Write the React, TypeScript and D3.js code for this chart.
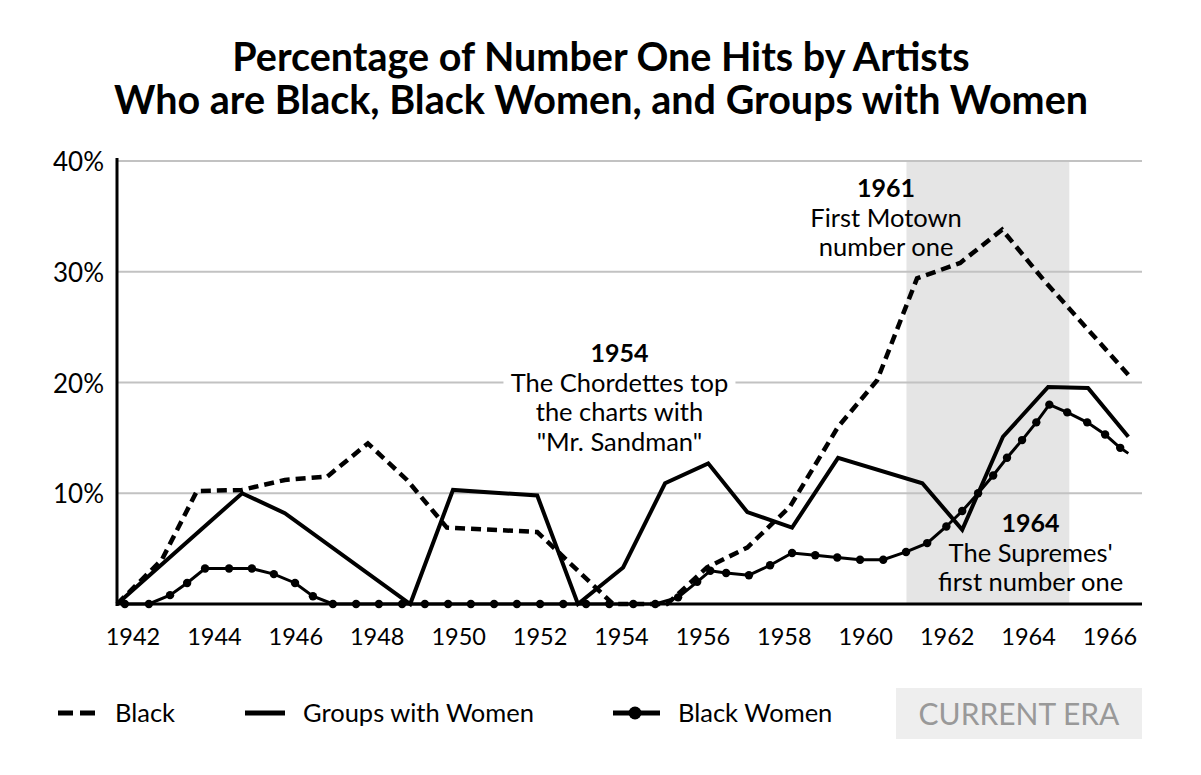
import React from "react";
import * as d3 from "d3";

const yearTicks = [1942, 1944, 1946, 1948, 1950, 1952, 1954, 1956, 1958, 1960, 1962, 1964, 1966];
const pctTicks = [10, 20, 30, 40];

// Black (dashed): [year, percent]
const blackSeries: [number, number][] = [
  [1941.61, 0], [1942.71, 4.0], [1943.57, 10.2], [1944.68, 10.3], [1945.73, 11.2],
  [1946.77, 11.5], [1947.77, 14.5], [1948.73, 11.2], [1949.71, 6.9], [1951.93, 6.5],
  [1953.79, 0], [1955.12, 0], [1956.1, 3.3], [1957.09, 5.1], [1958.14, 8.8],
  [1959.32, 16.0], [1960.28, 20.2], [1961.26, 29.4], [1962.32, 30.8], [1963.35, 33.8],
  [1964.36, 29.3], [1966.45, 20.7],
];

// Groups with Women (solid)
const groupsSeries: [number, number][] = [
  [1941.61, 0], [1944.68, 10.0], [1945.73, 8.2], [1948.81, 0], [1949.86, 10.3],
  [1951.93, 9.8], [1952.93, 0], [1954.04, 3.3], [1955.07, 10.9], [1956.13, 12.7],
  [1957.09, 8.3], [1958.19, 6.9], [1959.32, 13.2], [1961.39, 10.9], [1962.37, 6.7],
  [1963.37, 15.1], [1964.48, 19.6], [1965.46, 19.5], [1966.45, 15.1],
];

// Black Women (line with dots)
const blackWomenSeries: [number, number][] = [
  [1941.8, 0], [1942.39, 0], [1942.91, 0.8], [1943.33, 1.9], [1943.77, 3.2],
  [1944.36, 3.2], [1944.92, 3.2], [1945.46, 2.7], [1945.98, 1.9], [1946.42, 0.7],
  [1946.91, 0], [1947.48, 0], [1948.04, 0], [1948.61, 0], [1949.17, 0],
  [1949.74, 0], [1950.3, 0], [1950.87, 0], [1951.43, 0], [1952.0, 0],
  [1952.57, 0], [1953.13, 0], [1953.7, 0], [1954.29, 0], [1954.83, 0],
  [1955.39, 0.6], [1955.86, 2.0], [1956.18, 3.0], [1956.57, 2.8], [1957.13, 2.6],
  [1957.65, 3.5], [1958.19, 4.6], [1958.76, 4.4], [1959.3, 4.2], [1959.86, 4.0],
  [1960.43, 4.0], [1960.99, 4.7], [1961.51, 5.5], [1961.98, 7.0], [1962.37, 8.4],
  [1962.76, 10.0], [1963.13, 11.6], [1963.47, 13.2], [1963.84, 14.8], [1964.19, 16.4],
  [1964.51, 18.0], [1964.95, 17.3], [1965.44, 16.4], [1965.88, 15.3], [1966.25, 14.1],
  [1966.45, 13.6],
];

const eraRange = [1961, 1965];

const titleLines = [
  "Percentage of Number One Hits by Artists",
  "Who are Black, Black Women, and Groups with Women",
];

const annotations = [
  { year: 1953.95, pct: 21.85, head: "1954", lines: ["The Chordettes top", "the charts with", "\"Mr. Sandman\""], halo: true },
  { year: 1960.5, pct: 36.75, head: "1961", lines: ["First Motown", "number one"], halo: false },
  { year: 1964.05, pct: 6.5, head: "1964", lines: ["The Supremes'", "first number one"], halo: false },
];

const legendItems = ["Black", "Groups with Women", "Black Women"];

const FONT = "Lato, 'Open Sans', sans-serif";

export default function App() {
  const x = d3.scaleLinear().domain([1942, 1966]).range([133, 1110]);
  const y = d3.scaleLinear().domain([0, 40]).range([604, 161]);
  const xLeft = 117;
  const xRight = 1142;

  const line = d3
    .line<[number, number]>()
    .x((d) => x(d[0]))
    .y((d) => y(d[1]));

  const dotted = blackWomenSeries.slice(0, blackWomenSeries.length - 1);

  return (
    <svg
      width={1201}
      height={775}
      style={{ position: "fixed", left: 0, top: 0, background: "#fff" }}
      fontFamily={FONT}
    >
      <rect x={0} y={0} width={1201} height={775} fill="#fff" />
      {/* Title */}
      {titleLines.map((t, i) => (
        <text key={i} x={601} y={71 + i * 43} textAnchor="middle" fontSize={39.5} fontWeight={700} fill="#000">
          {t}
        </text>
      ))}

      {/* Current era band */}
      <rect
        x={x(eraRange[0])}
        y={y(40)}
        width={x(eraRange[1]) - x(eraRange[0])}
        height={y(0) - y(40)}
        fill="#e5e5e5"
      />

      {/* Grid lines */}
      {pctTicks.map((p) => (
        <line key={p} x1={xLeft} x2={xRight} y1={y(p)} y2={y(p)} stroke="#c2c2c2" strokeWidth={2} />
      ))}

      {/* Y labels */}
      {pctTicks.map((p) => (
        <text key={p} x={104} y={y(p) + 10} textAnchor="end" fontSize={26} fill="#000">
          {p}%
        </text>
      ))}

      {/* X labels */}
      {yearTicks.map((yr) => (
        <text key={yr} x={x(yr)} y={645} textAnchor="middle" fontSize={23.5} fill="#000">
          {yr}
        </text>
      ))}

      {/* Annotations */}
      {annotations.map((a, i) => {
        const cx = x(a.year);
        const base = y(a.pct);
        return (
          <g key={i}>
            {a.halo && (
              <rect x={cx - 116} y={base + 12} width={232} height={26} fill="#fff" />
            )}
            <text x={cx} y={base} textAnchor="middle" fontSize={25} fontWeight={700} fill="#000">
              {a.head}
            </text>
            {a.lines.map((l, j) => (
              <text key={j} x={cx} y={base + 30 + j * 29.3} textAnchor="middle" fontSize={25.5} fill="#000">
                {l}
              </text>
            ))}
          </g>
        );
      })}

      {/* Series */}
      <path d={line(blackSeries) || ""} fill="none" stroke="#000" strokeWidth={4.5} strokeDasharray="10 6" />
      <path d={line(groupsSeries) || ""} fill="none" stroke="#000" strokeWidth={4} strokeLinejoin="miter" />
      <path d={line(blackWomenSeries) || ""} fill="none" stroke="#000" strokeWidth={3} />
      {dotted.map((d, i) => (
        <circle key={i} cx={x(d[0])} cy={y(d[1])} r={4.2} fill="#000" />
      ))}

      {/* Axes */}
      <line x1={xLeft} x2={xLeft} y1={158} y2={606} stroke="#000" strokeWidth={3} />
      <line x1={xLeft - 1} x2={xRight} y1={y(0)} y2={y(0)} stroke="#000" strokeWidth={3} />

      {/* Legend */}
      <g>
        <line x1={58} x2={96} y1={713} y2={713} stroke="#000" strokeWidth={5} strokeDasharray="15 7" />
        <text x={115} y={722} fontSize={25.5} fill="#000">{legendItems[0]}</text>
        <line x1={245} x2={285} y1={713} y2={713} stroke="#000" strokeWidth={5} />
        <text x={303} y={722} fontSize={25.5} fill="#000">{legendItems[1]}</text>
        <line x1={613} x2={660} y1={713} y2={713} stroke="#000" strokeWidth={5} />
        <circle cx={635} cy={713} r={6.5} fill="#000" />
        <text x={678} y={722} fontSize={25.5} fill="#000">{legendItems[2]}</text>
        <rect x={896} y={688} width={246} height={51} fill="#eeeeee" />
        <text x={1019} y={725} textAnchor="middle" fontSize={30} fill="#999">CURRENT ERA</text>
      </g>
    </svg>
  );
}
